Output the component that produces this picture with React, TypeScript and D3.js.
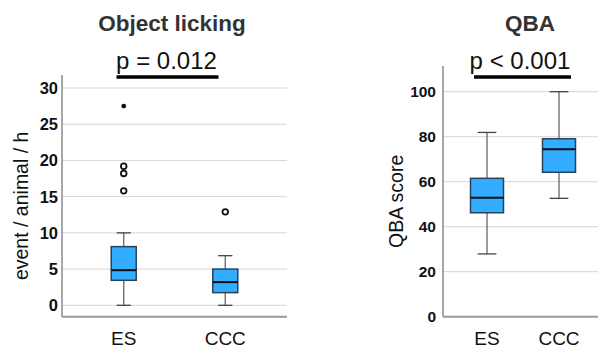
import * as d3 from "d3";

const categories = ["ES", "CCC"];

// Object licking (event / animal / h)
const lickMin = [0, 0];
const lickQ1 = [3.45, 1.75];
const lickMedian = [4.85, 3.2];
const lickQ3 = [8.1, 5.0];
const lickMax = [10, 6.85];
const lickOutliers = [[15.8, 18.2, 19.2], [12.9]];
const lickExtremes = [[27.5], []];
const lickTicks = [0, 5, 10, 15, 20, 25, 30];

// QBA score
const qbaMin = [27.9, 52.6];
const qbaQ1 = [46.2, 64.2];
const qbaMedian = [52.9, 74.4];
const qbaQ3 = [61.5, 79.1];
const qbaMax = [81.9, 100];
const qbaTicks = [0, 20, 40, 60, 80, 100];

const FONT = "'Liberation Sans', Arial, sans-serif";
const BOX_FILL = "#33adff";

type PanelProps = {
  title: string;
  titleX: number;
  pText: string;
  pX: number;
  barX: [number, number];
  yLabel: string;
  yLabelX: number;
  left: number;
  right: number;
  gridRight: number;
  axisTop: number;
  axisBottom: number;
  y: d3.ScaleLinear<number, number>;
  x: d3.ScalePoint<string>;
  ticks: number[];
  boxW: number;
  mins: number[];
  q1: number[];
  med: number[];
  q3: number[];
  maxs: number[];
  outliers?: number[][];
  extremes?: number[][];
  tickGap: number;
  tickSize: number;
};

function Panel(p: PanelProps) {
  const capW = p.boxW * 0.57;
  const midY = (p.axisTop + p.axisBottom) / 2 + 10;
  return (
    <g>
      <text x={p.titleX} y={31} textAnchor="middle" fontFamily={FONT} fontWeight="bold" fontSize={22.5} fill="#333">
        {p.title}
      </text>
      <text x={p.pX} y={69} textAnchor="middle" fontFamily={FONT} fontSize={24} fill="#111">
        {p.pText}
      </text>
      <line x1={p.barX[0]} x2={p.barX[1]} y1={77} y2={77} stroke="#000" strokeWidth={3.5} />

      {p.ticks.map((t) => (
        <g key={t}>
          {t !== 0 || p.y(0) < p.axisBottom - 2 ? (
            <line x1={p.left} x2={p.gridRight} y1={p.y(t)} y2={p.y(t)} stroke="#d6d6d6" strokeWidth={1} />
          ) : null}
          <text
            x={p.left - p.tickGap}
            y={p.y(t)}
            dy="0.36em"
            textAnchor="end"
            fontFamily={FONT}
            fontWeight="bold"
            fontSize={p.tickSize}
            fill="#111"
          >
            {t}
          </text>
        </g>
      ))}

      <line x1={p.left} x2={p.left} y1={p.axisTop} y2={p.axisBottom} stroke="#8a8a8a" strokeWidth={1.5} />
      <line x1={p.left} x2={p.right} y1={p.axisBottom} y2={p.axisBottom} stroke="#999" strokeWidth={2} />

      <text
        transform={`translate(${p.yLabelX},${midY}) rotate(-90)`}
        textAnchor="middle"
        fontFamily={FONT}
        fontSize={19.5}
        fill="#111"
      >
        {p.yLabel}
      </text>

      {categories.map((c, i) => {
        const cx = p.x(c) as number;
        return (
          <g key={c}>
            <line x1={cx} x2={cx} y1={p.y(p.maxs[i])} y2={p.y(p.q3[i])} stroke="#666" strokeWidth={1.3} />
            <line x1={cx} x2={cx} y1={p.y(p.q1[i])} y2={p.y(p.mins[i])} stroke="#666" strokeWidth={1.3} />
            <line x1={cx - capW / 2} x2={cx + capW / 2} y1={p.y(p.maxs[i])} y2={p.y(p.maxs[i])} stroke="#444" strokeWidth={1.3} />
            <line x1={cx - capW / 2} x2={cx + capW / 2} y1={p.y(p.mins[i])} y2={p.y(p.mins[i])} stroke="#444" strokeWidth={1.3} />
            <rect
              x={cx - p.boxW / 2}
              y={p.y(p.q3[i])}
              width={p.boxW}
              height={p.y(p.q1[i]) - p.y(p.q3[i])}
              fill={BOX_FILL}
              stroke="#2a4258"
              strokeWidth={1.5}
            />
            <line x1={cx - p.boxW / 2} x2={cx + p.boxW / 2} y1={p.y(p.med[i])} y2={p.y(p.med[i])} stroke="#111" strokeWidth={2} />
            {(p.outliers?.[i] ?? []).map((v, k) => (
              <circle key={"o" + k} cx={cx} cy={p.y(v)} r={2.8} fill="none" stroke="#111" strokeWidth={1.8} />
            ))}
            {(p.extremes?.[i] ?? []).map((v, k) => (
              <circle key={"e" + k} cx={cx} cy={p.y(v)} r={2.4} fill="#111" />
            ))}
            <text x={cx} y={345} textAnchor="middle" fontFamily={FONT} fontSize={19} fill="#111">
              {c}
            </text>
          </g>
        );
      })}
    </g>
  );
}

export default function App() {
  const yLick = d3.scaleLinear().domain([0, 30]).range([305.3, 88]);
  const xLick = d3.scalePoint<string>().domain(categories).range([62, 287]).padding(0.608);

  const yQba = d3.scaleLinear().domain([0, 100]).range([316.7, 91.7]);
  const xQba = d3.scalePoint<string>().domain(categories).range([443, 603]).padding(0.611);

  return (
    <svg
      width={598}
      height={349}
      style={{ position: "absolute", left: 0, top: 0, background: "#fff" }}
    >
      <Panel
        title="Object licking"
        titleX={172}
        pText="p = 0.012"
        pX={166.5}
        barX={[116.5, 218.5]}
        yLabel="event / animal / h"
        yLabelX={28}
        left={62}
        right={287}
        gridRight={287}
        axisTop={75}
        axisBottom={316.7}
        y={yLick}
        x={xLick}
        ticks={lickTicks}
        boxW={25}
        mins={lickMin}
        q1={lickQ1}
        med={lickMedian}
        q3={lickQ3}
        maxs={lickMax}
        outliers={lickOutliers}
        extremes={lickExtremes}
        tickGap={4}
        tickSize={16.5}
      />
      <Panel
        title="QBA"
        titleX={530}
        pText="p < 0.001"
        pX={520}
        barX={[474, 571]}
        yLabel="QBA score"
        yLabelX={403}
        left={443}
        right={598}
        gridRight={598}
        axisTop={66}
        axisBottom={316.7}
        y={yQba}
        x={xQba}
        ticks={qbaTicks}
        boxW={33}
        mins={qbaMin}
        q1={qbaQ1}
        med={qbaMedian}
        q3={qbaQ3}
        maxs={qbaMax}
        tickGap={7}
        tickSize={15.5}
      />
    </svg>
  );
}
